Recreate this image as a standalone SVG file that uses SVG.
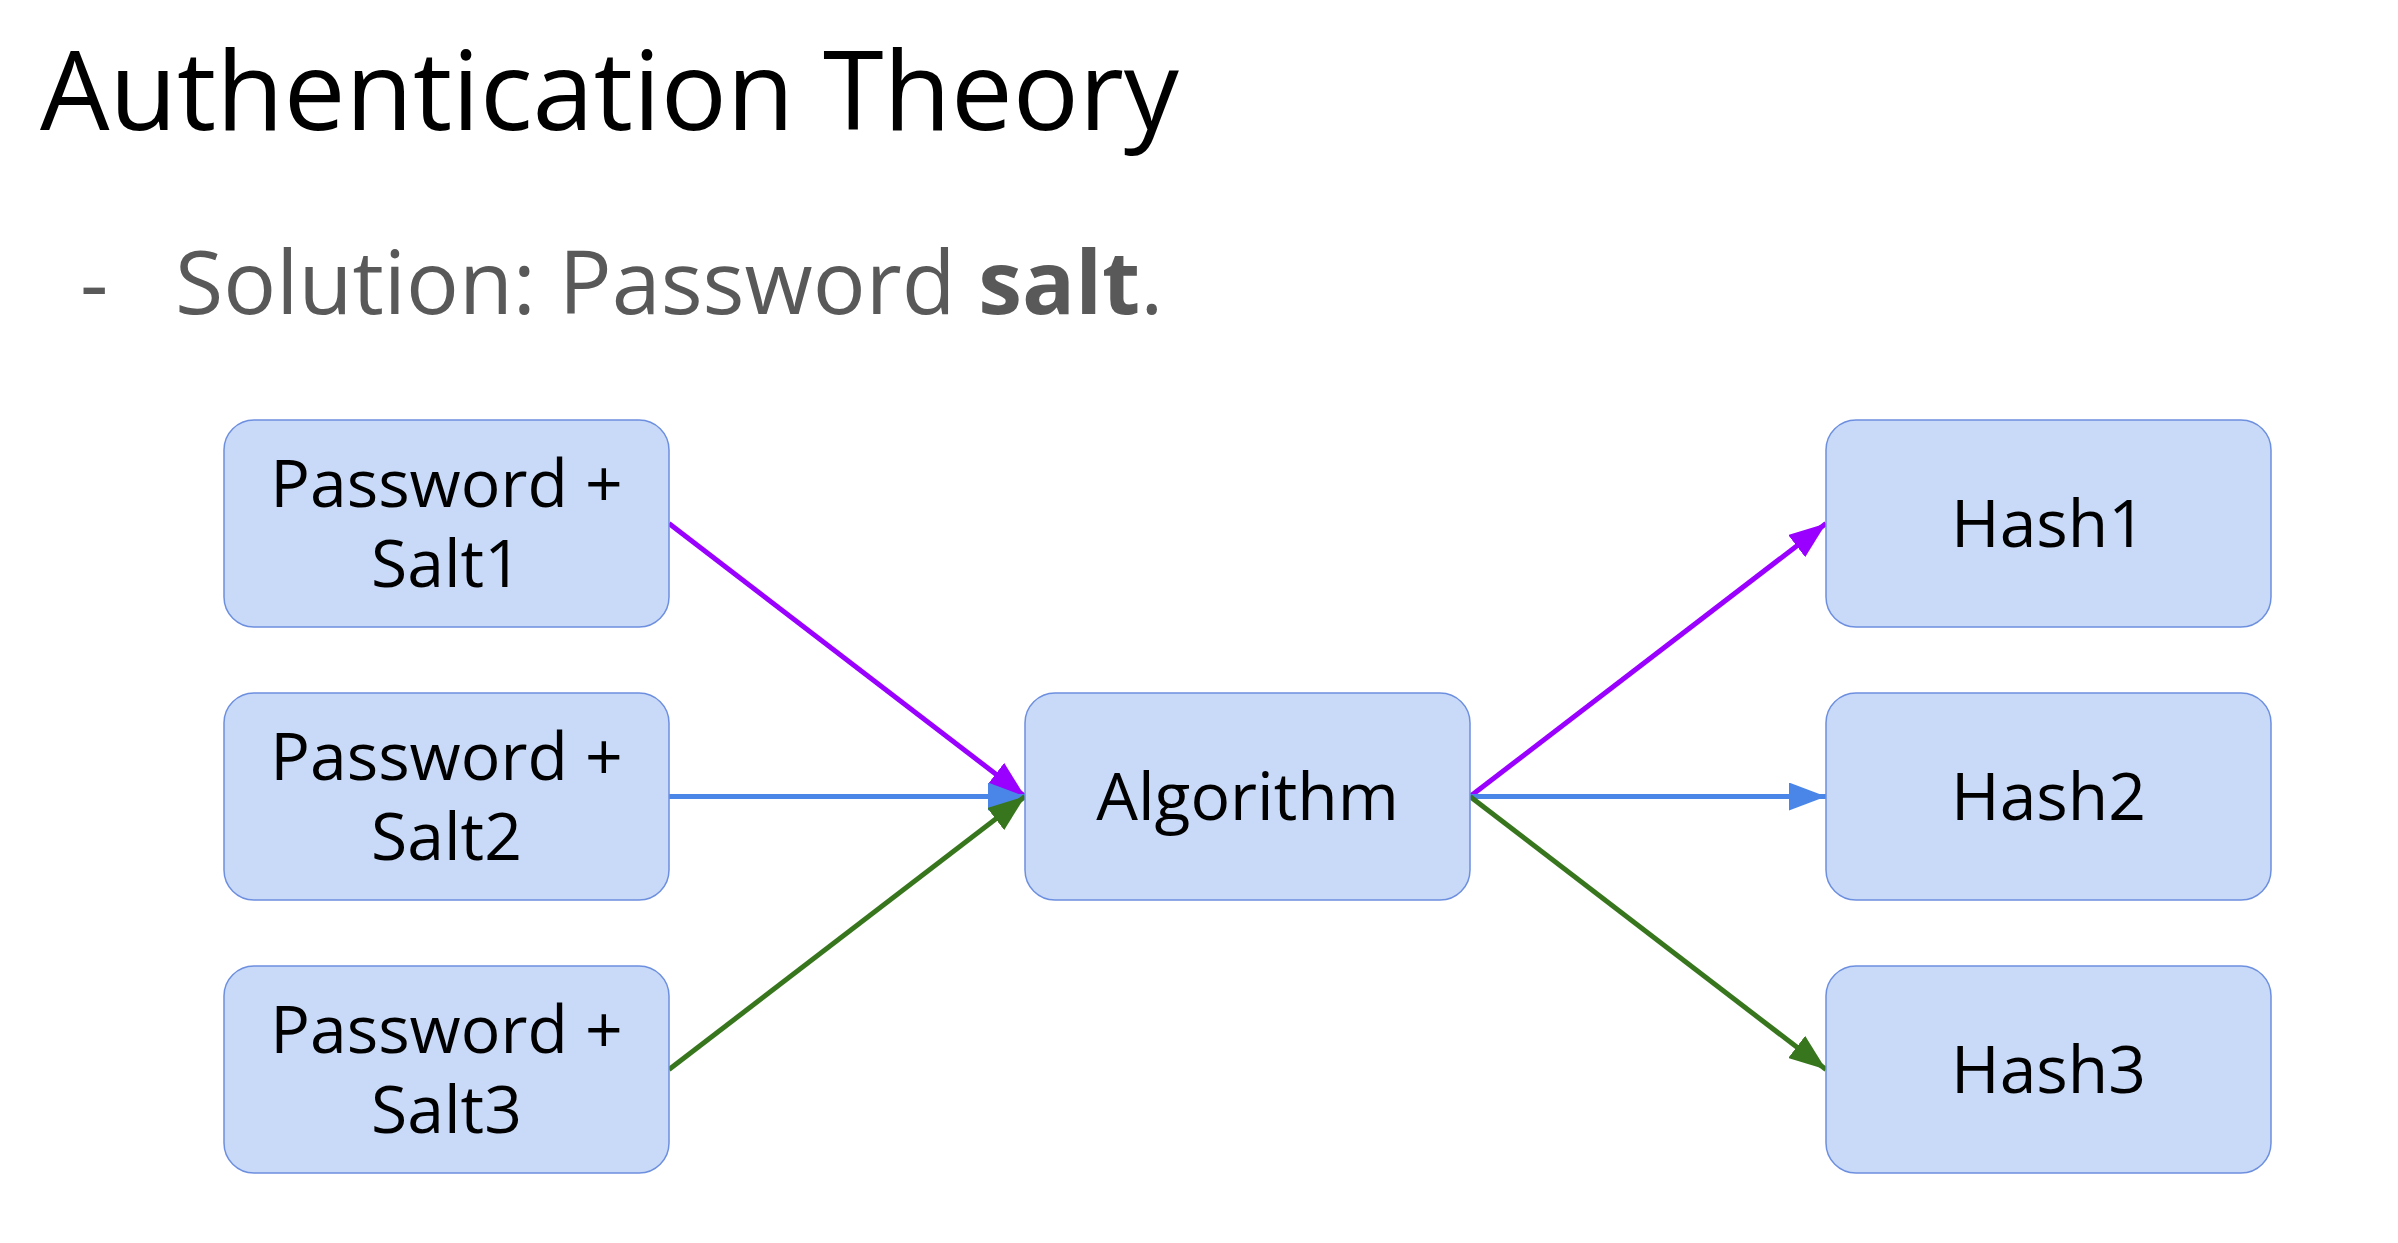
<svg xmlns="http://www.w3.org/2000/svg" width="2398" height="1243" viewBox="0 0 2398 1243">
  <style>
    .box { fill: #c9daf8; stroke: #6d8fdf; stroke-width: 1.5; }
    .lbl { font-family: "Open Sans", "Noto Sans", sans-serif; font-size: 66px; fill: #000000; text-anchor: middle; }
    .edge { fill: none; stroke-width: 5; }
    .purple { stroke: #9900ff; }
    .blue { stroke: #4a86e8; }
    .green { stroke: #38761d; }
  </style>
  <defs>
    <marker id="ah-purple" markerUnits="userSpaceOnUse" markerWidth="38" markerHeight="28" refX="37" refY="14" orient="auto">
      <path d="M0,0 L37,14 L0,28 Z" fill="#9900ff"/>
    </marker>
    <marker id="ah-blue" markerUnits="userSpaceOnUse" markerWidth="38" markerHeight="28" refX="37" refY="14" orient="auto">
      <path d="M0,0 L37,14 L0,28 Z" fill="#4a86e8"/>
    </marker>
    <marker id="ah-green" markerUnits="userSpaceOnUse" markerWidth="38" markerHeight="28" refX="37" refY="14" orient="auto">
      <path d="M0,0 L37,14 L0,28 Z" fill="#38761d"/>
    </marker>
  </defs>
  <rect width="2398" height="1243" fill="#ffffff"/>

  <g id="title">
    <text x="40" y="130" font-family="'Open Sans', 'Noto Sans', sans-serif" font-size="110" fill="#000000">Authentication Theory</text>
  </g>
  <g id="subtitle">
    <text x="80" y="314" font-family="'Open Sans', 'Noto Sans', sans-serif" font-size="88" fill="#595959">-</text>
    <text x="175" y="314" font-family="'Open Sans', 'Noto Sans', sans-serif" font-size="88" fill="#595959">Solution: Password <tspan font-weight="bold">salt</tspan>.</text>
  </g>

  <g id="connectors">
    <line class="edge purple" x1="669" y1="523.5" x2="1025" y2="796.5" marker-end="url(#ah-purple)"/>
    <line class="edge blue" x1="669" y1="796.5" x2="1025" y2="796.5" marker-end="url(#ah-blue)"/>
    <line class="edge green" x1="669" y1="1069.5" x2="1025" y2="796.5" marker-end="url(#ah-green)"/>
    <line class="edge purple" x1="1470" y1="796.5" x2="1826" y2="523.5" marker-end="url(#ah-purple)"/>
    <line class="edge blue" x1="1470" y1="796.5" x2="1826" y2="796.5" marker-end="url(#ah-blue)"/>
    <line class="edge green" x1="1470" y1="796.5" x2="1826" y2="1069.5" marker-end="url(#ah-green)"/>
  </g>

  <g id="node-salt1">
    <rect class="box" x="224" y="420" width="445" height="207" rx="30" ry="30"/>
    <text class="lbl" x="446.5" y="507">Password +<tspan x="446.5" dy="80">Salt1</tspan></text>
  </g>
  <g id="node-salt2">
    <rect class="box" x="224" y="693" width="445" height="207" rx="30" ry="30"/>
    <text class="lbl" x="446.5" y="780">Password +<tspan x="446.5" dy="80">Salt2</tspan></text>
  </g>
  <g id="node-salt3">
    <rect class="box" x="224" y="966" width="445" height="207" rx="30" ry="30"/>
    <text class="lbl" x="446.5" y="1053">Password +<tspan x="446.5" dy="80">Salt3</tspan></text>
  </g>
  <g id="node-algorithm">
    <rect class="box" x="1025" y="693" width="445" height="207" rx="30" ry="30"/>
    <text class="lbl" x="1247.5" y="820">Algorithm</text>
  </g>
  <g id="node-hash1">
    <rect class="box" x="1826" y="420" width="445" height="207" rx="30" ry="30"/>
    <text class="lbl" x="2048.5" y="547">Hash1</text>
  </g>
  <g id="node-hash2">
    <rect class="box" x="1826" y="693" width="445" height="207" rx="30" ry="30"/>
    <text class="lbl" x="2048.5" y="820">Hash2</text>
  </g>
  <g id="node-hash3">
    <rect class="box" x="1826" y="966" width="445" height="207" rx="30" ry="30"/>
    <text class="lbl" x="2048.5" y="1093">Hash3</text>
  </g>
</svg>
